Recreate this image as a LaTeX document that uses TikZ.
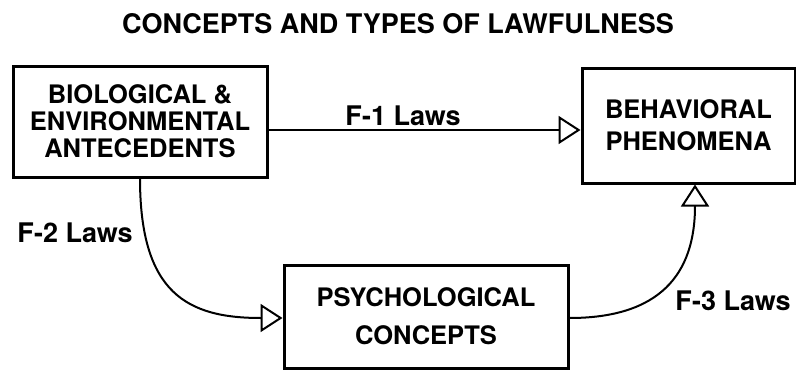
\documentclass[tikz,border=0pt]{standalone}
\usepackage{fontspec}
\setmainfont{TeX Gyre Heros}
\usepackage{tikz}
\usetikzlibrary{arrows.meta}

\begin{document}
\begin{tikzpicture}[x=1pt,y=-1pt,
    box/.style={draw,line width=3pt,align=center,inner sep=0pt,
      font=\fontsize{25.5}{27}\selectfont\bfseries},
    law/.style={line width=2pt,-{Triangle[open,length=22pt,width=28pt,line width=2pt]}},
    lawlabel/.style={font=\fontsize{27}{30}\selectfont\bfseries,inner sep=0pt,anchor=base}
    ]

  \useasboundingbox (0,0) rectangle (796,370);

  \node[font=\fontsize{27}{30}\selectfont\bfseries,anchor=base,inner sep=0pt] (title)
        at (398,33) {CONCEPTS AND TYPES OF LAWFULNESS};

  \node[box,minimum width=254pt,minimum height=111pt] (bio) at (140,121.5)
        {BIOLOGICAL \&\\ENVIRONMENTAL\\ANTECEDENTS};
  \node[box,minimum width=213pt,minimum height=115pt,
        font=\fontsize{25.5}{32}\selectfont\bfseries] (beh) at (688.5,125.5)
        {BEHAVIORAL\\PHENOMENA};
  \node[box,minimum width=284pt,minimum height=103pt,
        font=\fontsize{25.5}{38}\selectfont\bfseries] (psy) at (426,316.5)
        {PSYCHOLOGICAL\\CONCEPTS};

  % F-1: straight across
  \draw[law] ([yshift=-8.5pt]bio.east) -- ([yshift=-8.5pt]bio.east -| beh.west);
  % F-2 and F-3: curved
  \draw[law] (bio.south) .. controls +(0,115) and +(-95,0) .. ([yshift=-1.5pt]psy.west);
  \draw[law] ([yshift=-1.5pt]psy.east) .. controls +(90,0) and +(0,90) .. ([xshift=6.5pt]beh.south);

  \node[lawlabel] (f1) at (403,125) {F-1 Laws};
  \node[lawlabel] (f2) at (75,242) {F-2 Laws};
  \node[lawlabel] (f3) at (733,310) {F-3 Laws};
\end{tikzpicture}
\end{document}
